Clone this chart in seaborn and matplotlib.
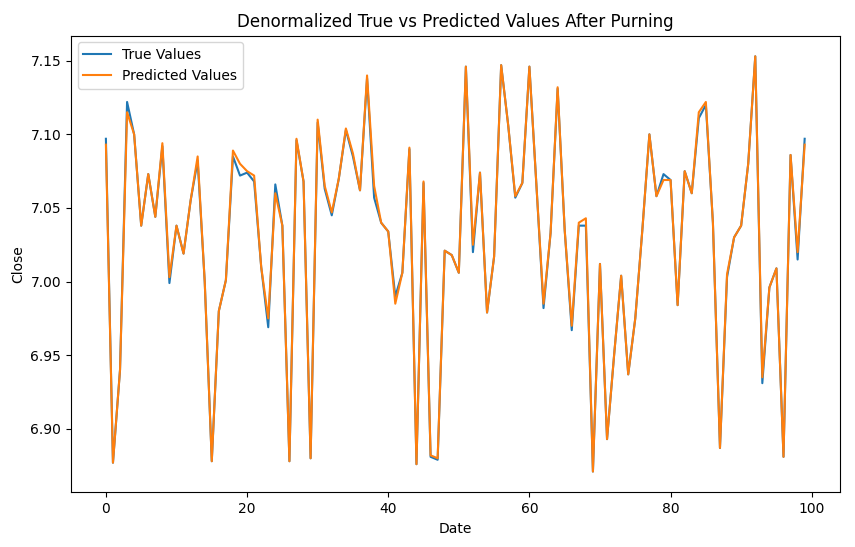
import matplotlib
matplotlib.use("Agg")
import matplotlib.pyplot as plt
import pandas as pd
import seaborn as sns

true_values = [
    7.097, 6.877, 6.940, 7.122, 7.100, 7.038, 7.073, 7.044, 7.092, 6.999,
    7.038, 7.019, 7.055, 7.082, 7.000, 6.878, 6.980, 7.001, 7.085, 7.072,
    7.074, 7.068, 7.010, 6.969, 7.066, 7.038, 6.878, 7.096, 7.068, 6.880,
    7.108, 7.063, 7.045, 7.070, 7.103, 7.085, 7.062, 7.138, 7.057, 7.040,
    7.034, 6.990, 7.006, 7.090, 6.876, 7.067, 6.881, 6.879, 7.021, 7.018,
    7.006, 7.146, 7.020, 7.074, 6.979, 7.017, 7.147, 7.106, 7.057, 7.067,
    7.146, 7.065, 6.982, 7.033, 7.131, 7.035, 6.967, 7.038, 7.038, 6.871,
    7.012, 6.893, 6.950, 7.004, 6.937, 6.975, 7.035, 7.100, 7.058, 7.073,
    7.069, 6.984, 7.075, 7.060, 7.111, 7.120, 7.040, 6.887, 7.003, 7.030,
    7.038, 7.080, 7.153, 6.931, 6.996, 7.009, 6.881, 7.086, 7.015, 7.097,
]
predicted_values = [
    7.093, 6.877, 6.940, 7.115, 7.100, 7.038, 7.073, 7.044, 7.094, 7.003,
    7.038, 7.019, 7.055, 7.085, 7.000, 6.878, 6.980, 7.001, 7.089, 7.080,
    7.075, 7.072, 7.010, 6.975, 7.060, 7.038, 6.878, 7.097, 7.068, 6.880,
    7.110, 7.065, 7.047, 7.070, 7.104, 7.087, 7.062, 7.140, 7.065, 7.040,
    7.034, 6.985, 7.006, 7.091, 6.876, 7.068, 6.882, 6.880, 7.021, 7.018,
    7.006, 7.146, 7.025, 7.074, 6.979, 7.017, 7.147, 7.106, 7.058, 7.067,
    7.146, 7.065, 6.985, 7.033, 7.132, 7.035, 6.970, 7.040, 7.043, 6.871,
    7.012, 6.893, 6.950, 7.004, 6.937, 6.975, 7.035, 7.100, 7.058, 7.069,
    7.069, 6.984, 7.075, 7.060, 7.115, 7.122, 7.040, 6.887, 7.005, 7.030,
    7.038, 7.080, 7.153, 6.935, 6.996, 7.009, 6.881, 7.086, 7.020, 7.093,
]

df = pd.DataFrame({
    "Date": list(range(len(true_values))) * 2,
    "Close": true_values + predicted_values,
    "series": ["True Values"] * len(true_values) + ["Predicted Values"] * len(predicted_values),
})

fig, ax = plt.subplots(figsize=(8.55, 5.47), dpi=100)
sns.lineplot(data=df, x="Date", y="Close", hue="series",
             palette=["#1f77b4", "#ff7f0e"], ax=ax)
ax.set_title("Denormalized True vs Predicted Values After Purning")
ax.legend(loc="upper left")
fig.subplots_adjust(left=0.083, right=0.982, top=0.935, bottom=0.1)
fig.savefig("out.png")
